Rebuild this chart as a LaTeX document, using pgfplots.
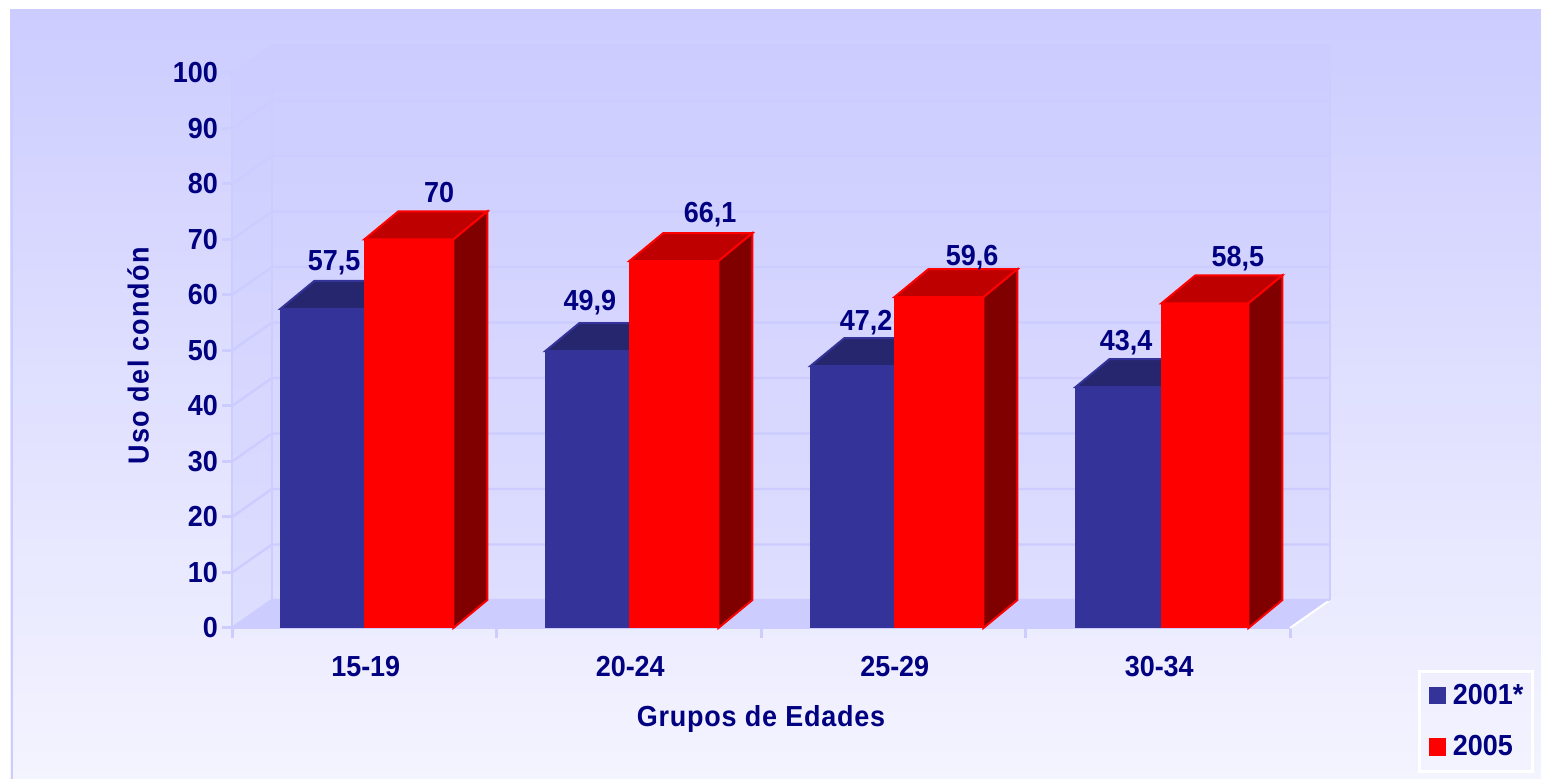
\documentclass[border=0pt]{standalone}
\usepackage{fontspec}
\setmainfont{Liberation Sans}[FakeStretch=0.93]
\usepackage{pgfplots}
\pgfplotsset{compat=1.18}
\definecolor{navy}{HTML}{000080}
\definecolor{wallc}{HTML}{CCCCFF}
\definecolor{bgbot}{HTML}{F4F4FF}
\definecolor{blueF}{HTML}{333399}
\definecolor{blueT}{HTML}{26266F}
\definecolor{redT}{HTML}{BF0000}
\definecolor{redS}{HTML}{800000}
\newcommand{\chartfont}{\fontsize{14.5}{16}\selectfont\bfseries}
\begin{document}
\begin{tikzpicture}
% 1 px of the reference = 0.5pt
\useasboundingbox (0,0) rectangle (770.5pt,390.5pt);
\shade[top color=wallc, bottom color=bgbot] (5pt,1pt) rectangle (770.5pt,385.5pt);
\draw[wallc, line width=1pt] (6pt,1pt) -- (6pt,385.5pt);
\begin{axis}[
    at={(116pt,76.5pt)}, anchor=south west,
    scale only axis, width=529pt, height=277.5pt,
    xmin=0, xmax=4, ymin=0, ymax=100,
    clip=false,
    axis x line*=bottom, axis y line*=left,
    axis line style={wallc, line width=1.5pt, -},
    tick align=outside,
    major tick length=5pt,
    tick style={wallc, line width=1.5pt},
    xtick={0,1,2,3,4},
    xticklabels={},
    extra x ticks={0.5,1.5,2.5,3.5},
    extra x tick labels={15-19,20-24,25-29,30-34},
    extra x tick style={major tick length=0pt, tick style={draw=none},
      tick label style={xshift=0.75pt, yshift=-10.5pt}},
    ytick={0,10,...,100},
    y tick label style={xshift=1.5pt},
    tick label style={font=\chartfont, text=navy},
    /pgf/number format/assume math mode=true,
    xlabel={\addfontfeatures{LetterSpace=2.6}Grupos de Edades},
    ylabel={\addfontfeatures{LetterSpace=4.8}Uso del condón},
    label style={font=\chartfont, text=navy},
    xlabel style={at={(axis cs:2.0,-16.4)}, anchor=center},
    ylabel style={at={(axis cs:-0.355,49)}, anchor=center, rotate=0},
    legend style={at={(axis cs:4.485,-7.5)}, anchor=north west,
      draw=white, line width=1.5pt, fill=none, inner xsep=2.5pt, inner ysep=4.5pt,
      font=\chartfont, text=navy,
      row sep=10pt},
    legend cell align=left,
    legend image code/.code={\path (0pt,0pt); \fill[#1, draw=none] (1.5pt,-4.3pt) rectangle (10pt,4.3pt);},
]
\addlegendimage{blueF}
\addlegendimage{red}
\legend{\hspace{1.25pt}2001*,\hspace{1.25pt}2005}

% floor and walls
\addplot[forget plot, draw=none, fill=wallc] coordinates {(0,0) (0.1512,5.05) (4.1512,5.05) (4,0)} -- cycle;
\addplot[forget plot, draw=none, top color=wallc, bottom color=white!35!wallc] coordinates {(0.1512,5.05) (0.1512,105.05) (4.1512,105.05) (4.1512,5.05)} -- cycle;
\addplot[forget plot, draw=none, top color=wallc, bottom color=white!35!wallc] coordinates {(0,0) (0,100) (0.1512,105.05) (0.1512,5.05)} -- cycle;
\addplot[forget plot, white, line width=1pt] coordinates {(4,0) (4.1512,5.05)};

% grid on the walls
\addplot[forget plot, wallc, line width=1.2pt] coordinates {(0,0) (0.1512,5.05) (4.1512,5.05)};
\addplot[forget plot, wallc, line width=1.2pt] coordinates {(0,10) (0.1512,15.05) (4.1512,15.05)};
\addplot[forget plot, wallc, line width=1.2pt] coordinates {(0,20) (0.1512,25.05) (4.1512,25.05)};
\addplot[forget plot, wallc, line width=1.2pt] coordinates {(0,30) (0.1512,35.05) (4.1512,35.05)};
\addplot[forget plot, wallc, line width=1.2pt] coordinates {(0,40) (0.1512,45.05) (4.1512,45.05)};
\addplot[forget plot, wallc, line width=1.2pt] coordinates {(0,50) (0.1512,55.05) (4.1512,55.05)};
\addplot[forget plot, wallc, line width=1.2pt] coordinates {(0,60) (0.1512,65.05) (4.1512,65.05)};
\addplot[forget plot, wallc, line width=1.2pt] coordinates {(0,70) (0.1512,75.05) (4.1512,75.05)};
\addplot[forget plot, wallc, line width=1.2pt] coordinates {(0,80) (0.1512,85.05) (4.1512,85.05)};
\addplot[forget plot, wallc, line width=1.2pt] coordinates {(0,90) (0.1512,95.05) (4.1512,95.05)};
\addplot[forget plot, wallc, line width=1.2pt] coordinates {(0.1512,5.05) (0.1512,105.05)};
\addplot[forget plot, wallc, line width=1.2pt] coordinates {(4.1512,5.05) (4.1512,105.05)};
\addplot[forget plot, wallc, line width=1.2pt] coordinates {(0,0) (0,100)};

% 2001*
\addplot[forget plot, fill=blueT, draw=blueF, line width=1pt] coordinates {(.183,57.5) (.3115,62.55) (.6285,62.55) (.5,57.5)} -- cycle;
\addplot[forget plot, fill=blueT, draw=blueF, line width=1pt] coordinates {(1.185,49.9) (1.3135,54.95) (1.6305,54.95) (1.502,49.9)} -- cycle;
\addplot[forget plot, fill=blueT, draw=blueF, line width=1pt] coordinates {(2.187,47.2) (2.3155,52.25) (2.6325,52.25) (2.504,47.2)} -- cycle;
\addplot[forget plot, fill=blueT, draw=blueF, line width=1pt] coordinates {(3.189,43.4) (3.3175,48.45) (3.6425,48.45) (3.514,43.4)} -- cycle;
\addplot[forget plot, ybar, bar width=0.33, bar shift=0pt, fill=blueF, draw=blueF, line width=0.5pt]
  coordinates {(0.348,57.5) (1.35,49.9) (2.352,47.2) (3.354,43.4)};

% 2005
\addplot[forget plot, fill=redT, draw=red, line width=1pt] coordinates {(.5,70) (.6285,75.05) (.9655,75.05) (.837,70)} -- cycle;
\addplot[forget plot, fill=redT, draw=red, line width=1pt] coordinates {(1.502,66.1) (1.6305,71.15) (1.9675,71.15) (1.839,66.1)} -- cycle;
\addplot[forget plot, fill=redT, draw=red, line width=1pt] coordinates {(2.504,59.6) (2.6325,64.65) (2.9695,64.65) (2.841,59.6)} -- cycle;
\addplot[forget plot, fill=redT, draw=red, line width=1pt] coordinates {(3.514,58.5) (3.6425,63.55) (3.9715,63.55) (3.843,58.5)} -- cycle;
\addplot[forget plot, fill=redS, draw=red, line width=1pt] coordinates {(.837,0) (.9655,5.05) (.9655,75.05) (.837,70)} -- cycle;
\addplot[forget plot, fill=redS, draw=red, line width=1pt] coordinates {(1.839,0) (1.9675,5.05) (1.9675,71.15) (1.839,66.1)} -- cycle;
\addplot[forget plot, fill=redS, draw=red, line width=1pt] coordinates {(2.841,0) (2.9695,5.05) (2.9695,64.65) (2.841,59.6)} -- cycle;
\addplot[forget plot, fill=redS, draw=red, line width=1pt] coordinates {(3.843,0) (3.9715,5.05) (3.9715,63.55) (3.843,58.5)} -- cycle;
\addplot[forget plot, ybar, bar width=0.337, bar shift=0pt, fill=red, draw=red, line width=0.5pt]
  coordinates {(0.6685,70) (1.6705,66.1) (2.6725,59.6)};
\addplot[forget plot, ybar, bar width=0.329, bar shift=0pt, fill=red, draw=red, line width=0.5pt]
  coordinates {(3.679,58.5)};

% value labels
\tikzset{val/.style={font=\chartfont, text=navy, inner sep=0pt}}
\node[val] at (axis cs:.386,65.8) {57,5};
\node[val] at (axis cs:1.353,58.7) {49,9};
\node[val] at (axis cs:2.397,55.1) {47,2};
\node[val] at (axis cs:3.38,51.5) {43,4};
\node[val] at (axis cs:.783,78.4) {70};
\node[val] at (axis cs:1.808,74.5) {66,1};
\node[val] at (axis cs:2.798,66.8) {59,6};
\node[val] at (axis cs:3.803,66.5) {58,5};
\end{axis}
\end{tikzpicture}
\end{document}
